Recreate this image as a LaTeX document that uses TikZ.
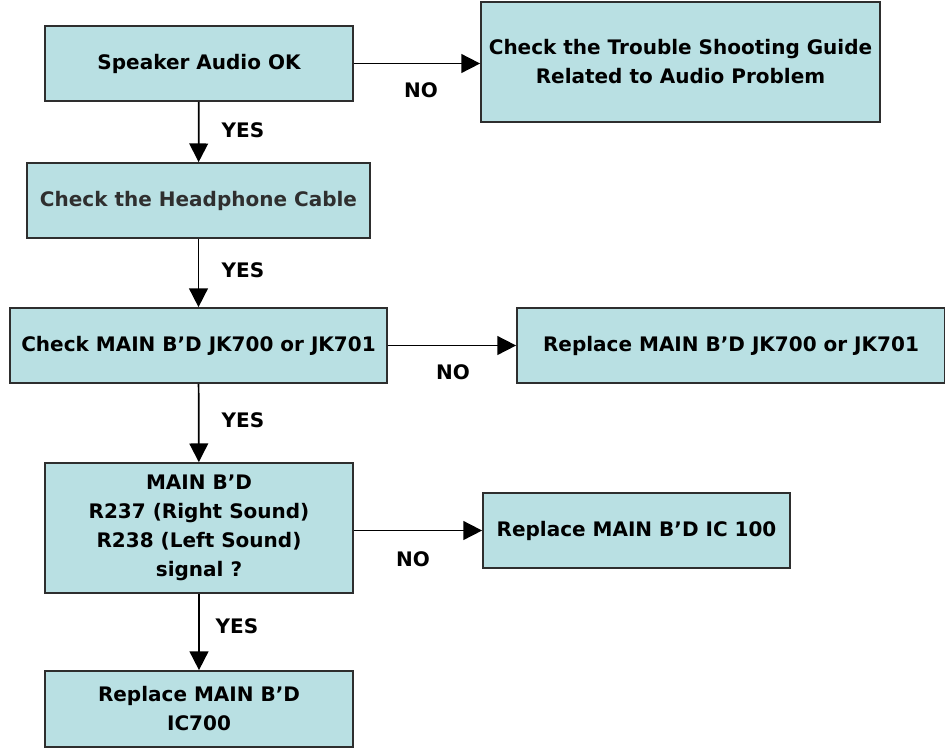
\documentclass[tikz,border=0pt]{standalone}
\usepackage{fontspec}
\setmainfont{DejaVu Sans}
\usetikzlibrary{arrows.meta,positioning}
\definecolor{boxfill}{HTML}{B9E0E3}
\definecolor{boxline}{HTML}{2E2E2E}
\definecolor{softtext}{HTML}{2F2F2F}
\tikzset{
  stepbox/.style={draw=boxline, line width=1.3pt, fill=boxfill, align=center, inner sep=3pt, minimum height=56.25pt, font=\bfseries\fontsize{15}{21.75}\selectfont},
  answer/.style={font=\bfseries\fontsize{15}{18}\selectfont, inner sep=0pt},
  arrow/.style={-{Triangle[length=14pt,width=14pt]}, line width=1.3pt, draw=black}
}

\begin{document}
\begin{tikzpicture}[x=0.75pt, y=-0.75pt]
  \useasboundingbox (0,0) rectangle (945,747);

  \node[stepbox, minimum width=231pt] (audio) at (199,63.5) {Speaker Audio OK};
  \node[stepbox, minimum width=299.25pt, minimum height=90pt] (guide) at (680.5,62) {Check the Trouble Shooting Guide\\Related to Audio Problem};
  \node[stepbox, minimum width=257.25pt, text=softtext] (cable) at (198.5,200.5) {Check the Headphone Cable};
  \node[stepbox, minimum width=282.75pt] (jack) at (198.5,345.5) {Check MAIN B’D JK700 or JK701};
  \node[stepbox, minimum width=321pt] (newjack) at (731,345.5) {Replace MAIN B’D JK700 or JK701};
  \node[stepbox, minimum width=231pt, minimum height=97.5pt] (signal) at (199,528) {MAIN B’D\\R237 (Right Sound)\\R238 (Left Sound)\\signal ?};
  \node[stepbox, minimum width=230.25pt] (newic100) at (636.5,530.5) {Replace MAIN B’D IC 100};
  \node[stepbox, minimum width=231pt, minimum height=57pt] (newic700) at (199,709) {Replace MAIN B’D\\IC700};

  \draw[arrow] (audio.east) -- (audio.east -| guide.west);
  \draw[arrow] (audio) -- (cable);
  \draw[arrow] (cable) -- (jack);
  \draw[arrow] (jack) -- (newjack);
  \draw[arrow] (jack) -- (signal);
  \draw[arrow] (newic100.west -| signal.east) -- (newic100.west);
  \draw[arrow] (signal) -- (newic700);

  \node[answer] (no1) at (421,90) {NO};
  \node[answer] (yes1) at (243,130) {YES};
  \node[answer] (yes2) at (243,270) {YES};
  \node[answer] (no2) at (453,372) {NO};
  \node[answer] (yes3) at (243,420) {YES};
  \node[answer] (no3) at (413,559) {NO};
  \node[answer] (yes4) at (237,626) {YES};
\end{tikzpicture}
\end{document}
